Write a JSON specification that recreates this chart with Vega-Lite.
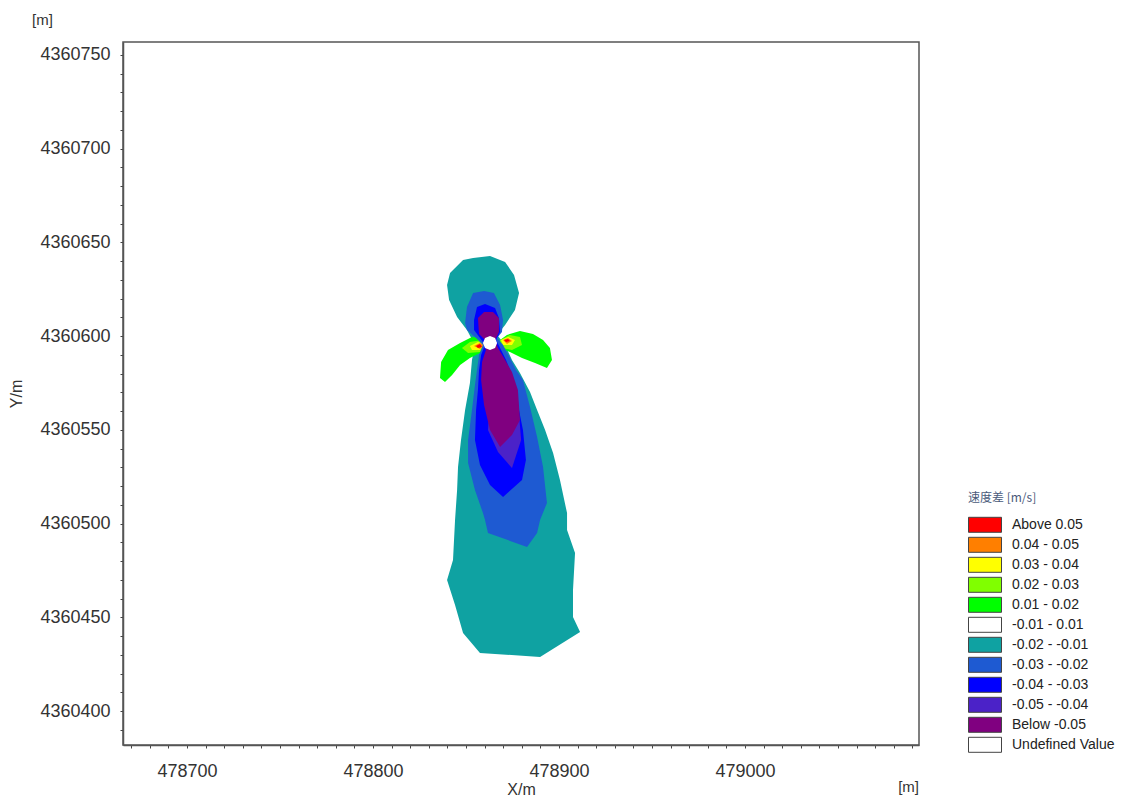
{
"$schema": "https://vega.github.io/schema/vega-lite/v6.json",
"width": 796, "height": 703,
"autosize": {"type": "none"},
"padding": {"left": 123, "top": 42, "right": 226, "bottom": 55},
"background": "white",
"config": {"view": {"stroke": "#555", "strokeWidth": 1.5}, "font": "Liberation Sans"},
"title": {"text": "[m]", "anchor": "start", "frame": "group", "dx": -91, "offset": 14, "fontSize": 15, "fontWeight": "normal", "color": "#333", "font": "Liberation Sans"},
"data": {"values": [
{"p":"p01","i":1,"x":478853.8,"y":4360641.7,"c":"-0.02 - -0.01"},
{"p":"p01","i":2,"x":478862.9,"y":4360642.8,"c":"-0.02 - -0.01"},
{"p":"p01","i":3,"x":478871.0,"y":4360639.6,"c":"-0.02 - -0.01"},
{"p":"p01","i":4,"x":478875.8,"y":4360632.7,"c":"-0.02 - -0.01"},
{"p":"p01","i":5,"x":478878.5,"y":4360623.1,"c":"-0.02 - -0.01"},
{"p":"p01","i":6,"x":478876.3,"y":4360614.0,"c":"-0.02 - -0.01"},
{"p":"p01","i":7,"x":478871.0,"y":4360606.0,"c":"-0.02 - -0.01"},
{"p":"p01","i":8,"x":478866.7,"y":4360600.7,"c":"-0.02 - -0.01"},
{"p":"p01","i":9,"x":478871.0,"y":4360595.3,"c":"-0.02 - -0.01"},
{"p":"p01","i":10,"x":478874.7,"y":4360587.3,"c":"-0.02 - -0.01"},
{"p":"p01","i":11,"x":478879.0,"y":4360580.4,"c":"-0.02 - -0.01"},
{"p":"p01","i":12,"x":478884.4,"y":4360570.3,"c":"-0.02 - -0.01"},
{"p":"p01","i":13,"x":478888.2,"y":4360560.7,"c":"-0.02 - -0.01"},
{"p":"p01","i":14,"x":478892.5,"y":4360550.0,"c":"-0.02 - -0.01"},
{"p":"p01","i":15,"x":478896.8,"y":4360537.7,"c":"-0.02 - -0.01"},
{"p":"p01","i":16,"x":478900.5,"y":4360523.3,"c":"-0.02 - -0.01"},
{"p":"p01","i":17,"x":478904.3,"y":4360505.7,"c":"-0.02 - -0.01"},
{"p":"p01","i":18,"x":478904.3,"y":4360496.7,"c":"-0.02 - -0.01"},
{"p":"p01","i":19,"x":478908.6,"y":4360484.4,"c":"-0.02 - -0.01"},
{"p":"p01","i":20,"x":478907.5,"y":4360464.7,"c":"-0.02 - -0.01"},
{"p":"p01","i":21,"x":478907.5,"y":4360450.3,"c":"-0.02 - -0.01"},
{"p":"p01","i":22,"x":478911.3,"y":4360442.3,"c":"-0.02 - -0.01"},
{"p":"p01","i":23,"x":478889.8,"y":4360428.9,"c":"-0.02 - -0.01"},
{"p":"p01","i":24,"x":478857.5,"y":4360431.1,"c":"-0.02 - -0.01"},
{"p":"p01","i":25,"x":478848.4,"y":4360441.7,"c":"-0.02 - -0.01"},
{"p":"p01","i":26,"x":478844.1,"y":4360456.7,"c":"-0.02 - -0.01"},
{"p":"p01","i":27,"x":478839.8,"y":4360470.0,"c":"-0.02 - -0.01"},
{"p":"p01","i":28,"x":478843.0,"y":4360480.7,"c":"-0.02 - -0.01"},
{"p":"p01","i":29,"x":478844.1,"y":4360502.0,"c":"-0.02 - -0.01"},
{"p":"p01","i":30,"x":478845.2,"y":4360518.0,"c":"-0.02 - -0.01"},
{"p":"p01","i":31,"x":478845.7,"y":4360530.3,"c":"-0.02 - -0.01"},
{"p":"p01","i":32,"x":478847.3,"y":4360544.7,"c":"-0.02 - -0.01"},
{"p":"p01","i":33,"x":478849.5,"y":4360560.7,"c":"-0.02 - -0.01"},
{"p":"p01","i":34,"x":478852.1,"y":4360575.1,"c":"-0.02 - -0.01"},
{"p":"p01","i":35,"x":478853.2,"y":4360587.3,"c":"-0.02 - -0.01"},
{"p":"p01","i":36,"x":478854.8,"y":4360595.3,"c":"-0.02 - -0.01"},
{"p":"p01","i":37,"x":478850.5,"y":4360603.3,"c":"-0.02 - -0.01"},
{"p":"p01","i":38,"x":478845.2,"y":4360610.3,"c":"-0.02 - -0.01"},
{"p":"p01","i":39,"x":478840.9,"y":4360619.3,"c":"-0.02 - -0.01"},
{"p":"p01","i":40,"x":478839.8,"y":4360627.3,"c":"-0.02 - -0.01"},
{"p":"p01","i":41,"x":478841.4,"y":4360633.7,"c":"-0.02 - -0.01"},
{"p":"p01","i":42,"x":478848.4,"y":4360640.7,"c":"-0.02 - -0.01"},
{"p":"p02","i":1,"x":478836.6,"y":4360586.3,"c":"0.01 - 0.02"},
{"p":"p02","i":2,"x":478840.3,"y":4360592.7,"c":"0.01 - 0.02"},
{"p":"p02","i":3,"x":478846.8,"y":4360596.4,"c":"0.01 - 0.02"},
{"p":"p02","i":4,"x":478853.2,"y":4360599.6,"c":"0.01 - 0.02"},
{"p":"p02","i":5,"x":478858.6,"y":4360599.1,"c":"0.01 - 0.02"},
{"p":"p02","i":6,"x":478861.8,"y":4360595.3,"c":"0.01 - 0.02"},
{"p":"p02","i":7,"x":478858.6,"y":4360591.6,"c":"0.01 - 0.02"},
{"p":"p02","i":8,"x":478852.1,"y":4360588.4,"c":"0.01 - 0.02"},
{"p":"p02","i":9,"x":478846.8,"y":4360584.7,"c":"0.01 - 0.02"},
{"p":"p02","i":10,"x":478842.5,"y":4360579.3,"c":"0.01 - 0.02"},
{"p":"p02","i":11,"x":478838.7,"y":4360575.6,"c":"0.01 - 0.02"},
{"p":"p02","i":12,"x":478836.0,"y":4360577.7,"c":"0.01 - 0.02"},
{"p":"p03","i":1,"x":478868.3,"y":4360598.0,"c":"0.01 - 0.02"},
{"p":"p03","i":2,"x":478872.0,"y":4360600.7,"c":"0.01 - 0.02"},
{"p":"p03","i":3,"x":478879.0,"y":4360602.8,"c":"0.01 - 0.02"},
{"p":"p03","i":4,"x":478886.0,"y":4360601.2,"c":"0.01 - 0.02"},
{"p":"p03","i":5,"x":478891.4,"y":4360598.0,"c":"0.01 - 0.02"},
{"p":"p03","i":6,"x":478895.1,"y":4360593.7,"c":"0.01 - 0.02"},
{"p":"p03","i":7,"x":478896.2,"y":4360587.3,"c":"0.01 - 0.02"},
{"p":"p03","i":8,"x":478893.5,"y":4360583.1,"c":"0.01 - 0.02"},
{"p":"p03","i":9,"x":478887.1,"y":4360585.7,"c":"0.01 - 0.02"},
{"p":"p03","i":10,"x":478880.1,"y":4360588.4,"c":"0.01 - 0.02"},
{"p":"p03","i":11,"x":478873.6,"y":4360591.6,"c":"0.01 - 0.02"},
{"p":"p03","i":12,"x":478868.3,"y":4360593.7,"c":"0.01 - 0.02"},
{"p":"p04","i":1,"x":478847.8,"y":4360593.7,"c":"0.02 - 0.03"},
{"p":"p04","i":2,"x":478852.1,"y":4360596.9,"c":"0.02 - 0.03"},
{"p":"p04","i":3,"x":478858.6,"y":4360598.0,"c":"0.02 - 0.03"},
{"p":"p04","i":4,"x":478860.7,"y":4360594.8,"c":"0.02 - 0.03"},
{"p":"p04","i":5,"x":478857.5,"y":4360591.6,"c":"0.02 - 0.03"},
{"p":"p04","i":6,"x":478851.1,"y":4360591.1,"c":"0.02 - 0.03"},
{"p":"p05","i":1,"x":478868.3,"y":4360598.0,"c":"0.02 - 0.03"},
{"p":"p05","i":2,"x":478873.6,"y":4360600.7,"c":"0.02 - 0.03"},
{"p":"p05","i":3,"x":478879.0,"y":4360599.6,"c":"0.02 - 0.03"},
{"p":"p05","i":4,"x":478880.1,"y":4360595.3,"c":"0.02 - 0.03"},
{"p":"p05","i":5,"x":478874.7,"y":4360592.7,"c":"0.02 - 0.03"},
{"p":"p05","i":6,"x":478869.3,"y":4360593.7,"c":"0.02 - 0.03"},
{"p":"p06","i":1,"x":478852.1,"y":4360594.8,"c":"0.03 - 0.04"},
{"p":"p06","i":2,"x":478856.4,"y":4360596.9,"c":"0.03 - 0.04"},
{"p":"p06","i":3,"x":478859.7,"y":4360595.9,"c":"0.03 - 0.04"},
{"p":"p06","i":4,"x":478857.5,"y":4360592.7,"c":"0.03 - 0.04"},
{"p":"p06","i":5,"x":478853.2,"y":4360592.7,"c":"0.03 - 0.04"},
{"p":"p07","i":1,"x":478868.8,"y":4360598.0,"c":"0.03 - 0.04"},
{"p":"p07","i":2,"x":478872.6,"y":4360599.6,"c":"0.03 - 0.04"},
{"p":"p07","i":3,"x":478876.3,"y":4360598.0,"c":"0.03 - 0.04"},
{"p":"p07","i":4,"x":478874.7,"y":4360595.3,"c":"0.03 - 0.04"},
{"p":"p07","i":5,"x":478869.9,"y":4360595.3,"c":"0.03 - 0.04"},
{"p":"p08","i":1,"x":478854.3,"y":4360594.8,"c":"0.04 - 0.05"},
{"p":"p08","i":2,"x":478857.5,"y":4360596.4,"c":"0.04 - 0.05"},
{"p":"p08","i":3,"x":478859.7,"y":4360595.3,"c":"0.04 - 0.05"},
{"p":"p08","i":4,"x":478857.5,"y":4360593.2,"c":"0.04 - 0.05"},
{"p":"p09","i":1,"x":478869.9,"y":4360598.0,"c":"0.04 - 0.05"},
{"p":"p09","i":2,"x":478872.6,"y":4360599.1,"c":"0.04 - 0.05"},
{"p":"p09","i":3,"x":478874.7,"y":4360597.5,"c":"0.04 - 0.05"},
{"p":"p09","i":4,"x":478872.0,"y":4360595.9,"c":"0.04 - 0.05"},
{"p":"p10","i":1,"x":478855.4,"y":4360594.8,"c":"Above 0.05"},
{"p":"p10","i":2,"x":478857.5,"y":4360595.9,"c":"Above 0.05"},
{"p":"p10","i":3,"x":478858.6,"y":4360594.3,"c":"Above 0.05"},
{"p":"p10","i":4,"x":478856.4,"y":4360593.7,"c":"Above 0.05"},
{"p":"p11","i":1,"x":478870.4,"y":4360598.0,"c":"Above 0.05"},
{"p":"p11","i":2,"x":478872.6,"y":4360598.5,"c":"Above 0.05"},
{"p":"p11","i":3,"x":478873.6,"y":4360597.5,"c":"Above 0.05"},
{"p":"p11","i":4,"x":478871.5,"y":4360596.9,"c":"Above 0.05"},
{"p":"p12","i":1,"x":478853.8,"y":4360623.1,"c":"-0.03 - -0.02"},
{"p":"p12","i":2,"x":478859.7,"y":4360624.1,"c":"-0.03 - -0.02"},
{"p":"p12","i":3,"x":478865.0,"y":4360623.1,"c":"-0.03 - -0.02"},
{"p":"p12","i":4,"x":478868.3,"y":4360616.7,"c":"-0.03 - -0.02"},
{"p":"p12","i":5,"x":478869.9,"y":4360608.7,"c":"-0.03 - -0.02"},
{"p":"p12","i":6,"x":478869.3,"y":4360602.3,"c":"-0.03 - -0.02"},
{"p":"p12","i":7,"x":478866.7,"y":4360599.1,"c":"-0.03 - -0.02"},
{"p":"p12","i":8,"x":478869.9,"y":4360595.3,"c":"-0.03 - -0.02"},
{"p":"p12","i":9,"x":478873.6,"y":4360588.4,"c":"-0.03 - -0.02"},
{"p":"p12","i":10,"x":478876.9,"y":4360582.0,"c":"-0.03 - -0.02"},
{"p":"p12","i":11,"x":478880.6,"y":4360576.7,"c":"-0.03 - -0.02"},
{"p":"p12","i":12,"x":478884.4,"y":4360562.3,"c":"-0.03 - -0.02"},
{"p":"p12","i":13,"x":478888.2,"y":4360546.3,"c":"-0.03 - -0.02"},
{"p":"p12","i":14,"x":478891.4,"y":4360530.3,"c":"-0.03 - -0.02"},
{"p":"p12","i":15,"x":478893.5,"y":4360511.1,"c":"-0.03 - -0.02"},
{"p":"p12","i":16,"x":478889.8,"y":4360502.0,"c":"-0.03 - -0.02"},
{"p":"p12","i":17,"x":478888.2,"y":4360495.1,"c":"-0.03 - -0.02"},
{"p":"p12","i":18,"x":478882.8,"y":4360487.6,"c":"-0.03 - -0.02"},
{"p":"p12","i":19,"x":478861.8,"y":4360495.1,"c":"-0.03 - -0.02"},
{"p":"p12","i":20,"x":478860.2,"y":4360502.0,"c":"-0.03 - -0.02"},
{"p":"p12","i":21,"x":478859.1,"y":4360505.7,"c":"-0.03 - -0.02"},
{"p":"p12","i":22,"x":478854.8,"y":4360518.0,"c":"-0.03 - -0.02"},
{"p":"p12","i":23,"x":478851.1,"y":4360532.4,"c":"-0.03 - -0.02"},
{"p":"p12","i":24,"x":478851.1,"y":4360544.7,"c":"-0.03 - -0.02"},
{"p":"p12","i":25,"x":478853.2,"y":4360560.7,"c":"-0.03 - -0.02"},
{"p":"p12","i":26,"x":478854.8,"y":4360574.0,"c":"-0.03 - -0.02"},
{"p":"p12","i":27,"x":478855.9,"y":4360582.0,"c":"-0.03 - -0.02"},
{"p":"p12","i":28,"x":478857.0,"y":4360590.0,"c":"-0.03 - -0.02"},
{"p":"p12","i":29,"x":478859.1,"y":4360595.3,"c":"-0.03 - -0.02"},
{"p":"p12","i":30,"x":478855.4,"y":4360599.1,"c":"-0.03 - -0.02"},
{"p":"p12","i":31,"x":478850.5,"y":4360603.3,"c":"-0.03 - -0.02"},
{"p":"p12","i":32,"x":478849.5,"y":4360607.1,"c":"-0.03 - -0.02"},
{"p":"p12","i":33,"x":478850.5,"y":4360615.6,"c":"-0.03 - -0.02"},
{"p":"p13","i":1,"x":478855.9,"y":4360615.6,"c":"-0.04 - -0.03"},
{"p":"p13","i":2,"x":478860.2,"y":4360617.2,"c":"-0.04 - -0.03"},
{"p":"p13","i":3,"x":478865.6,"y":4360615.1,"c":"-0.04 - -0.03"},
{"p":"p13","i":4,"x":478867.7,"y":4360609.7,"c":"-0.04 - -0.03"},
{"p":"p13","i":5,"x":478868.3,"y":4360602.3,"c":"-0.04 - -0.03"},
{"p":"p13","i":6,"x":478866.1,"y":4360598.0,"c":"-0.04 - -0.03"},
{"p":"p13","i":7,"x":478868.3,"y":4360593.7,"c":"-0.04 - -0.03"},
{"p":"p13","i":8,"x":478871.5,"y":4360587.3,"c":"-0.04 - -0.03"},
{"p":"p13","i":9,"x":478873.6,"y":4360582.0,"c":"-0.04 - -0.03"},
{"p":"p13","i":10,"x":478877.4,"y":4360566.0,"c":"-0.04 - -0.03"},
{"p":"p13","i":11,"x":478880.6,"y":4360550.0,"c":"-0.04 - -0.03"},
{"p":"p13","i":12,"x":478882.2,"y":4360534.0,"c":"-0.04 - -0.03"},
{"p":"p13","i":13,"x":478880.1,"y":4360523.3,"c":"-0.04 - -0.03"},
{"p":"p13","i":14,"x":478869.9,"y":4360514.3,"c":"-0.04 - -0.03"},
{"p":"p13","i":15,"x":478862.9,"y":4360520.7,"c":"-0.04 - -0.03"},
{"p":"p13","i":16,"x":478857.5,"y":4360531.3,"c":"-0.04 - -0.03"},
{"p":"p13","i":17,"x":478854.8,"y":4360544.7,"c":"-0.04 - -0.03"},
{"p":"p13","i":18,"x":478855.4,"y":4360560.7,"c":"-0.04 - -0.03"},
{"p":"p13","i":19,"x":478856.4,"y":4360571.3,"c":"-0.04 - -0.03"},
{"p":"p13","i":20,"x":478857.0,"y":4360582.0,"c":"-0.04 - -0.03"},
{"p":"p13","i":21,"x":478858.1,"y":4360590.0,"c":"-0.04 - -0.03"},
{"p":"p13","i":22,"x":478860.2,"y":4360595.3,"c":"-0.04 - -0.03"},
{"p":"p13","i":23,"x":478857.5,"y":4360599.1,"c":"-0.04 - -0.03"},
{"p":"p13","i":24,"x":478854.3,"y":4360603.3,"c":"-0.04 - -0.03"},
{"p":"p13","i":25,"x":478854.3,"y":4360608.7,"c":"-0.04 - -0.03"},
{"p":"p14","i":1,"x":478862.9,"y":4360566.0,"c":"-0.05 - -0.04"},
{"p":"p14","i":2,"x":478877.9,"y":4360566.0,"c":"-0.05 - -0.04"},
{"p":"p14","i":3,"x":478879.6,"y":4360544.7,"c":"-0.05 - -0.04"},
{"p":"p14","i":4,"x":478874.7,"y":4360529.7,"c":"-0.05 - -0.04"},
{"p":"p14","i":5,"x":478867.2,"y":4360538.3,"c":"-0.05 - -0.04"},
{"p":"p14","i":6,"x":478861.8,"y":4360550.0,"c":"-0.05 - -0.04"},
{"p":"p15","i":1,"x":478856.4,"y":4360609.7,"c":"Below -0.05"},
{"p":"p15","i":2,"x":478859.7,"y":4360612.9,"c":"Below -0.05"},
{"p":"p15","i":3,"x":478864.5,"y":4360612.9,"c":"Below -0.05"},
{"p":"p15","i":4,"x":478867.7,"y":4360609.7,"c":"Below -0.05"},
{"p":"p15","i":5,"x":478867.7,"y":4360602.3,"c":"Below -0.05"},
{"p":"p15","i":6,"x":478865.6,"y":4360598.0,"c":"Below -0.05"},
{"p":"p15","i":7,"x":478867.2,"y":4360593.7,"c":"Below -0.05"},
{"p":"p15","i":8,"x":478870.4,"y":4360588.4,"c":"Below -0.05"},
{"p":"p15","i":9,"x":478874.7,"y":4360580.9,"c":"Below -0.05"},
{"p":"p15","i":10,"x":478877.9,"y":4360571.3,"c":"Below -0.05"},
{"p":"p15","i":11,"x":478879.0,"y":4360555.3,"c":"Below -0.05"},
{"p":"p15","i":12,"x":478874.7,"y":4360547.3,"c":"Below -0.05"},
{"p":"p15","i":13,"x":478868.3,"y":4360540.9,"c":"Below -0.05"},
{"p":"p15","i":14,"x":478862.9,"y":4360550.0,"c":"Below -0.05"},
{"p":"p15","i":15,"x":478859.7,"y":4360563.3,"c":"Below -0.05"},
{"p":"p15","i":16,"x":478858.1,"y":4360576.7,"c":"Below -0.05"},
{"p":"p15","i":17,"x":478858.6,"y":4360586.3,"c":"Below -0.05"},
{"p":"p15","i":18,"x":478860.7,"y":4360592.7,"c":"Below -0.05"},
{"p":"p15","i":19,"x":478860.2,"y":4360598.0,"c":"Below -0.05"},
{"p":"p15","i":20,"x":478857.0,"y":4360601.2,"c":"Below -0.05"},
{"p":"p16","i":1,"x":478866.7,"y":4360596.4,"c":"-0.01 - 0.01"},
{"p":"p16","i":2,"x":478865.6,"y":4360593.7,"c":"-0.01 - 0.01"},
{"p":"p16","i":3,"x":478862.9,"y":4360592.7,"c":"-0.01 - 0.01"},
{"p":"p16","i":4,"x":478860.2,"y":4360593.7,"c":"-0.01 - 0.01"},
{"p":"p16","i":5,"x":478859.1,"y":4360596.4,"c":"-0.01 - 0.01"},
{"p":"p16","i":6,"x":478860.2,"y":4360599.1,"c":"-0.01 - 0.01"},
{"p":"p16","i":7,"x":478862.9,"y":4360600.1,"c":"-0.01 - 0.01"},
{"p":"p16","i":8,"x":478865.6,"y":4360599.1,"c":"-0.01 - 0.01"}
]},
"layer": [
{
"mark": {"type": "line", "interpolate": "linear-closed", "filled": true, "strokeWidth": 0, "clip": true},
"encoding": {
"x": {"field": "x", "type": "quantitative",
 "scale": {"domain": [478665.6, 479093.5], "nice": false, "zero": false},
 "axis": {"title": "X/m", "tickCount": 500, "values": [478670,478680,478690,478700,478710,478720,478730,478740,478750,478760,478770,478780,478790,478800,478810,478820,478830,478840,478850,478860,478870,478880,478890,478900,478910,478920,478930,478940,478950,478960,478970,478980,478990,479000,479010,479020,479030,479040,479050,479060,479070,479080,479090],
  "labelExpr": "datum.value % 100 === 0 ? format(datum.value, 'd') : ''",
  "labelOverlap": false, "labelFlush": false, "grid": false,
  "tickSize": 3, "tickColor": "#444", "domainColor": "#555", "domainWidth": 1.5,
  "labelFont": "Liberation Sans", "labelFontSize": 18, "labelColor": "#333", "labelPadding": 14,
  "titleFont": "Liberation Sans", "titleFontSize": 16, "titleFontWeight": "normal", "titleColor": "#333", "titlePadding": 1}},
"y": {"field": "y", "type": "quantitative",
 "scale": {"domain": [4360382.0, 4360756.9], "nice": false, "zero": false},
 "axis": {"title": "Y/m", "tickCount": 500, "values": [4360390,4360400,4360410,4360420,4360430,4360440,4360450,4360460,4360470,4360480,4360490,4360500,4360510,4360520,4360530,4360540,4360550,4360560,4360570,4360580,4360590,4360600,4360610,4360620,4360630,4360640,4360650,4360660,4360670,4360680,4360690,4360700,4360710,4360720,4360730,4360740,4360750],
  "labelExpr": "datum.value % 50 === 0 ? format(datum.value, 'd') : ''",
  "labelOverlap": false, "labelFlush": false, "grid": false,
  "tickSize": 3, "tickColor": "#444", "domainColor": "#555", "domainWidth": 1.5,
  "labelFont": "Liberation Sans", "labelFontSize": 18, "labelColor": "#333", "labelPadding": 10,
  "titleFont": "Liberation Sans", "titleFontSize": 16, "titleFontWeight": "normal", "titleColor": "#333", "titlePadding": 15}},
"fill": {"field": "c", "type": "nominal",
 "scale": {"domain": ["Above 0.05","0.04 - 0.05","0.03 - 0.04","0.02 - 0.03","0.01 - 0.02","-0.01 - 0.01","-0.02 - -0.01","-0.03 - -0.02","-0.04 - -0.03","-0.05 - -0.04","Below -0.05","Undefined Value"],
  "range": ["#FF0000","#FF7F00","#FFFF00","#80FF00","#00FF00","#FFFFFF","#0FA2A2","#1E5AD2","#0000FF","#4B22C8","#800080","#FFFFFF"]},
 "legend": {"title": "速度差 [m/s]", "orient": "none", "legendX": 845, "legendY": 451,
  "titleFont": "Noto Sans CJK SC", "titleFontSize": 12, "titleFontWeight": "normal", "titleColor": "#4a5a7a", "titlePadding": 11,
  "symbolType": "M-1,-0.4545H1V0.4545H-1Z", "symbolSize": 1089, "symbolStrokeColor": "#444", "symbolStrokeWidth": 1, "symbolOpacity": 1,
  "clipHeight": 17.6, "rowPadding": 2, "labelOffset": 10,
  "labelFont": "Liberation Sans", "labelFontSize": 14, "labelColor": "#222", "labelLimit": 200}},
"detail": {"field": "p", "type": "nominal"},
"order": {"field": "i", "type": "quantitative"}
}
},
{
"data": {"values": [{"t": "[m]"}]},
"mark": {"type": "text", "align": "right", "baseline": "middle", "dy": 42, "fontSize": 15, "color": "#333", "font": "Liberation Sans"},
"encoding": {"x": {"datum": 479093.5, "type": "quantitative"}, "y": {"datum": 4360382.0, "type": "quantitative"}, "text": {"field": "t"}}
}
]
}
